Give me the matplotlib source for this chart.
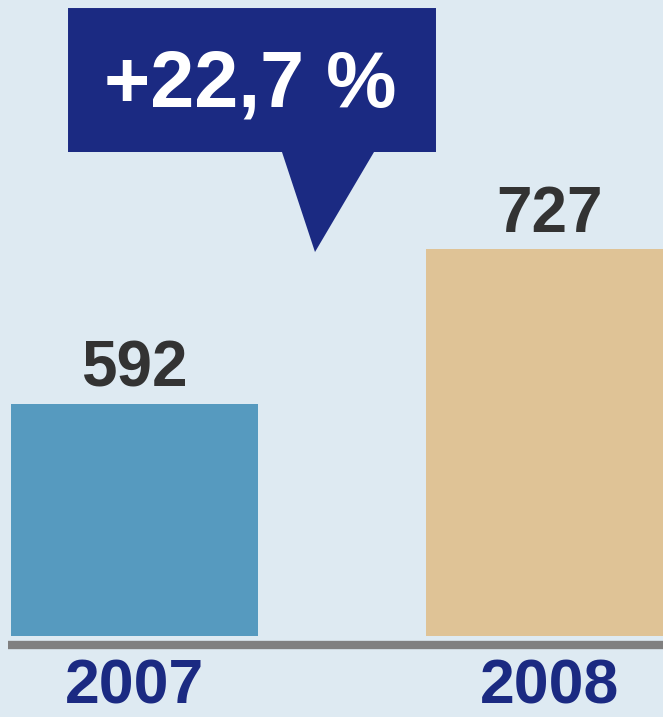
import matplotlib
matplotlib.use("Agg")
from matplotlib import pyplot as plt
from matplotlib.patches import Polygon

years = ["2007", "2008"]
values = [592, 727]
change_label = "+22,7 %"

bg = "#deeaf2"
bar_colors = ["#569abf", "#dfc396"]
dark_blue = "#1b2a82"

plt.rcParams["font.family"] = ["Liberation Sans", "DejaVu Sans"]

fig = plt.figure(figsize=(6.63, 7.17), dpi=100, facecolor=bg)
ax = fig.add_axes([0, 0, 1, 1])
ax.set_facecolor(bg)

# axis does not start at zero: bars stand on a base value
base = 390
px_per_unit = 1.148
x = [0, 1]
ax.set_xlim(-0.324, 1.274)
ax.set_ylim(base - 81 / px_per_unit, base + 636 / px_per_unit)

ax.bar(x, [v - base for v in values], bottom=base, width=0.595,
       color=bar_colors, zorder=2)

# gray baseline under the bars
ax.hlines(base - 9 / px_per_unit, -0.305, 1.3, color="#808080",
          linewidth=6, zorder=3)

for xi, v in zip(x, values):
    ax.text(xi, v + 15, str(v), ha="center", va="baseline",
            fontsize=46, fontweight="bold", color="#333333")

# year labels sit just above the lower edge
for xi, y in zip(x, years):
    ax.text(xi, base - 68 / px_per_unit, y, ha="center", va="baseline",
            fontsize=45, fontweight="bold", color=dark_blue)

# speech bubble with the growth rate
box = Polygon([(0.1026, 0.9888), (0.6576, 0.9888), (0.6576, 0.788),
               (0.5641, 0.788), (0.4751, 0.6485), (0.4253, 0.788),
               (0.1026, 0.788)], closed=True, transform=ax.transAxes,
              facecolor=dark_blue, edgecolor="none", zorder=4)
ax.add_patch(box)
ax.text(0.378, 0.8508, change_label, transform=ax.transAxes,
        ha="center", va="baseline", fontsize=57, fontweight="bold",
        color="white", zorder=5)

ax.axis("off")
fig.savefig("out.png", dpi=100, facecolor=bg)
